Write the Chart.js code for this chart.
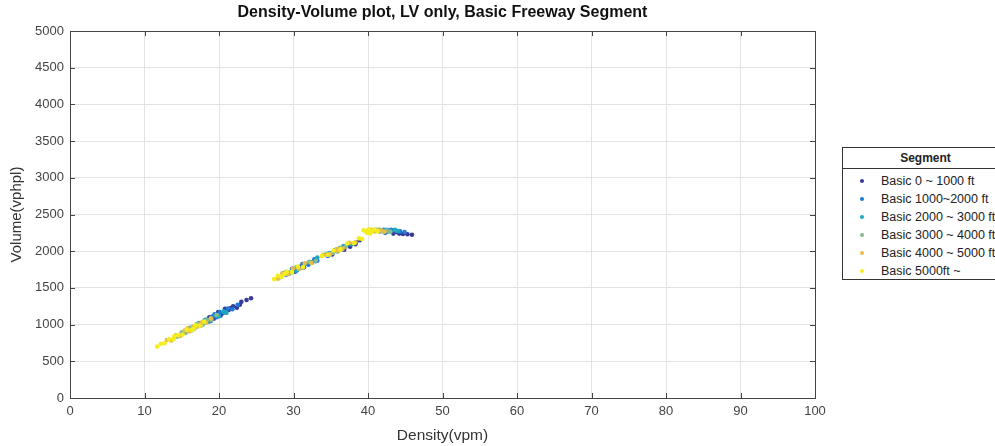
<!DOCTYPE html>
<html>
<head>
<meta charset="utf-8">
<script src="https://cdn.jsdelivr.net/npm/chart.js@4.4.1/dist/chart.umd.min.js"></script>
<style>
  html, body { margin: 0; padding: 0; background: #fff; overflow: hidden; }
  #wrap { position: relative; width: 995px; height: 446px; overflow: hidden; }
  #legend {
    position: absolute; left: 842px; top: 147px; width: 165px; height: 131px;
    border: 1px solid #333; background: #fff;
    font-family: "Liberation Sans", Arial, sans-serif; color: #222;
  }
  #legend .head { height: 20px; line-height: 21px; text-align: center; font-weight: bold; font-size: 12px; border-bottom: 1px solid #333; }
  #legend .row { position: absolute; left: 0; height: 18px; line-height: 18px; font-size: 12.5px; }
  #legend .dot { position: absolute; left: 17px; top: 7px; width: 4px; height: 4px; border-radius: 50%; }
  #legend .txt { position: absolute; left: 38px; white-space: nowrap; }
</style>
</head>
<body>
<div id="wrap">
  <canvas id="dvChart" width="995" height="446"></canvas>
  <div id="legend"><div class="head">Segment</div></div>
</div>
<script>
// Segment names and colours (parula-like)
const segments = ['Basic 0 ~ 1000 ft', 'Basic 1000~2000 ft', 'Basic 2000 ~ 3000 ft',
                  'Basic 3000 ~ 4000 ft', 'Basic 4000 ~ 5000 ft', 'Basic 5000ft ~'];
const colors = ['#383a98', '#1d7ad6', '#1ea8c4', '#86bb90', '#e8bc48', '#f4ee1e'];

// [density (vpm), volume (vphpl)]
const seg0 = [[18.7,1100],[19.3,1080],[19.9,1170],[20.4,1150],[20.8,1215],[21.3,1200],[21.9,1250],[22.4,1230],[23.0,1310],[23.7,1335],[24.3,1360],[20.2,1120],[21.6,1225],[22.8,1270],
  [30.2,1720],[31.4,1780],[32.3,1850],[33.0,1865],[35.2,1955],[36.8,2020],[37.6,2060],[38.3,2095],[38.9,2150],[31.0,1790],
  [42.6,2285],[43.1,2280],[43.5,2265],[43.9,2260],[44.2,2240],[44.7,2235],[45.3,2230],[45.9,2225],[43.4,2240]];
const seg1 = [[17.6,990],[18.1,1060],[18.6,1040],[19.1,1110],[19.7,1100],[20.1,1170],[20.6,1160],[21.2,1220],[21.8,1210],[22.5,1270],[19.4,1140],[18.9,1050],
  [29.0,1680],[29.8,1760],[30.5,1745],[31.2,1825],[32.0,1815],[32.8,1890],[34.6,1935],[35.6,2015],[36.5,2030],[37.3,2090],[38.4,2120],[33.2,1870],
  [41.6,2285],[42.1,2290],[42.6,2270],[43.1,2290],[43.7,2280],[44.3,2270],[44.9,2260],[42.3,2250]];
const seg2 = [[16.1,955],[16.7,950],[17.3,1020],[17.8,1005],[18.3,1070],[18.9,1060],[19.5,1120],[20.0,1115],[20.6,1180],[21.0,1160],[17.0,1005],[18.0,1045],
  [28.6,1700],[29.3,1710],[30.0,1760],[30.8,1765],[31.6,1830],[32.5,1845],[33.2,1915],[34.8,1975],[35.9,1995],[36.7,2070],[37.8,2095],[30.4,1730],
  [41.1,2290],[41.6,2270],[42.0,2280],[42.5,2290],[43.0,2270],[43.6,2290],[44.0,2275]];
const seg3 = [[15.0,895],[15.5,885],[16.0,950],[16.6,940],[17.2,1010],[17.7,995],[18.4,1060],[19.0,1065],[19.7,1130],[14.4,835],[16.3,920],
  [28.3,1645],[29.0,1720],[29.7,1710],[30.4,1785],[31.2,1775],[32.1,1855],[33.0,1870],[34.4,1960],[35.3,1975],[36.2,2045],[37.0,2060],[29.4,1690],
  [40.6,2285],[41.0,2275],[41.5,2295],[42.0,2270],[42.5,2280],[43.0,2265]];
const seg4 = [[13.0,790],[13.6,785],[14.2,855],[14.8,845],[15.4,920],[16.0,905],[16.5,975],[17.1,970],[17.7,1030],[18.3,1025],[18.9,1085],[15.8,950],[17.4,995],
  [27.9,1625],[28.5,1700],[29.2,1685],[29.9,1765],[30.7,1760],[31.5,1835],[32.4,1840],[34.0,1950],[34.9,1960],[35.8,2030],[36.6,2035],[37.5,2115],[38.3,2120],[36.0,2000],
  [40.0,2280],[40.4,2290],[40.9,2270],[41.3,2285],[41.8,2280],[42.2,2265]];
const seg5 = [[11.7,700],[12.2,740],[12.7,745],[13.3,800],[13.9,800],[14.5,855],[15.1,865],[15.7,930],[16.3,925],[16.9,990],[17.5,985],[18.0,1040],[14.0,840],[16.6,945],
  [27.4,1620],[27.9,1665],[28.4,1650],[29.1,1720],[29.8,1715],[30.6,1790],[31.3,1785],[33.8,1935],[34.6,1950],[35.4,2010],[36.3,2025],[37.2,2105],[38.1,2110],[38.8,2175],[39.2,2165],[28.8,1690],
  [39.4,2285],[39.7,2270],[40.1,2300],[40.5,2275],[40.9,2295],[41.3,2270],[39.9,2250],[40.3,2240]];

const allSegs = [seg0, seg1, seg2, seg3, seg4, seg5];
const xTicks = [0, 10, 20, 30, 40, 50, 60, 70, 80, 90, 100];
const yTicks = [0, 500, 1000, 1500, 2000, 2500, 3000, 3500, 4000, 4500, 5000];

const FONT = '"Liberation Sans", Arial, sans-serif';

// box around the plot + inward ticks, matlab style
const boxPlugin = {
    id: 'box',
    afterDraw(chart) {
        const ctx = chart.ctx;
        const a = chart.chartArea;
        const xs = chart.scales.x, ys = chart.scales.y;
        ctx.save();
        ctx.strokeStyle = '#444';
        ctx.lineWidth = 1;
        ctx.beginPath();
        xTicks.forEach(v => {
            const px = Math.round(xs.getPixelForValue(v)) + 0.5;
            ctx.moveTo(px, a.bottom); ctx.lineTo(px, a.bottom - 5);
            ctx.moveTo(px, a.top); ctx.lineTo(px, a.top + 5);
        });
        yTicks.forEach(v => {
            const py = Math.round(ys.getPixelForValue(v)) + 0.5;
            ctx.moveTo(a.left, py); ctx.lineTo(a.left + 5, py);
            ctx.moveTo(a.right, py); ctx.lineTo(a.right - 5, py);
        });
        ctx.stroke();
        ctx.strokeRect(Math.round(a.left) + 0.5, Math.round(a.top) + 0.5,
                       Math.round(a.right - a.left), Math.round(a.bottom - a.top));
        ctx.restore();
    }
};

const datasets = allSegs.map((pts, i) => ({
    label: segments[i],
    data: pts.map(p => ({ x: p[0], y: p[1] })),
    backgroundColor: colors[i],
    borderWidth: 0,
    pointRadius: 2.3,
    pointHoverRadius: 2.3,
    order: 5 - i
}));

new Chart(document.getElementById('dvChart').getContext('2d'), {
    type: 'scatter',
    data: { datasets: datasets },
    options: {
        responsive: false,
        animation: false,
        layout: { padding: { left: 0, right: 180, top: 0, bottom: 0 } },
        plugins: {
            legend: { display: false },
            tooltip: { enabled: false },
            title: {
                display: true,
                fullSize: false,
                text: 'Density-Volume plot, LV only, Basic Freeway Segment',
                color: '#111',
                font: { family: FONT, size: 16, weight: 'bold' },
                padding: { top: 3, bottom: 8.8 }
            }
        },
        scales: {
            x: {
                type: 'linear',
                min: 0, max: 100,
                afterFit: s => { s.height = 48; },
                afterBuildTicks: s => { s.ticks = xTicks.map(v => ({ value: v })); },
                ticks: { color: '#444', font: { family: FONT, size: 13 }, padding: 6, maxRotation: 0,
                         callback: v => String(v) },
                grid: { color: '#e3e3e3', tickLength: 0 },
                border: { display: false },
                title: { display: true, text: 'Density(vpm)', color: '#333', font: { family: FONT, size: 15.5 }, padding: { top: 0, bottom: 1 } }
            },
            y: {
                type: 'linear',
                min: 0, max: 5000,
                afterFit: s => { s.width = 70; },
                afterBuildTicks: s => { s.ticks = yTicks.map(v => ({ value: v })); },
                ticks: { color: '#444', font: { family: FONT, size: 13 }, padding: 6,
                         callback: v => String(v) },
                grid: { color: '#e3e3e3', tickLength: 0 },
                border: { display: false },
                title: { display: true, text: 'Volume(vphpl)', color: '#333', font: { family: FONT, size: 15 }, padding: { top: 8, bottom: 0 } }
            }
        }
    },
    plugins: [boxPlugin]
});

// legend table
const legend = document.getElementById('legend');
segments.forEach((name, i) => {
    const row = document.createElement('div');
    row.className = 'row';
    row.style.top = (24 + i * 18) + 'px';
    row.style.width = '165px';
    row.innerHTML = '<span class="dot" style="background:' + colors[i] + '"></span><span class="txt">' + name + '</span>';
    legend.appendChild(row);
});
</script>
</body>
</html>
